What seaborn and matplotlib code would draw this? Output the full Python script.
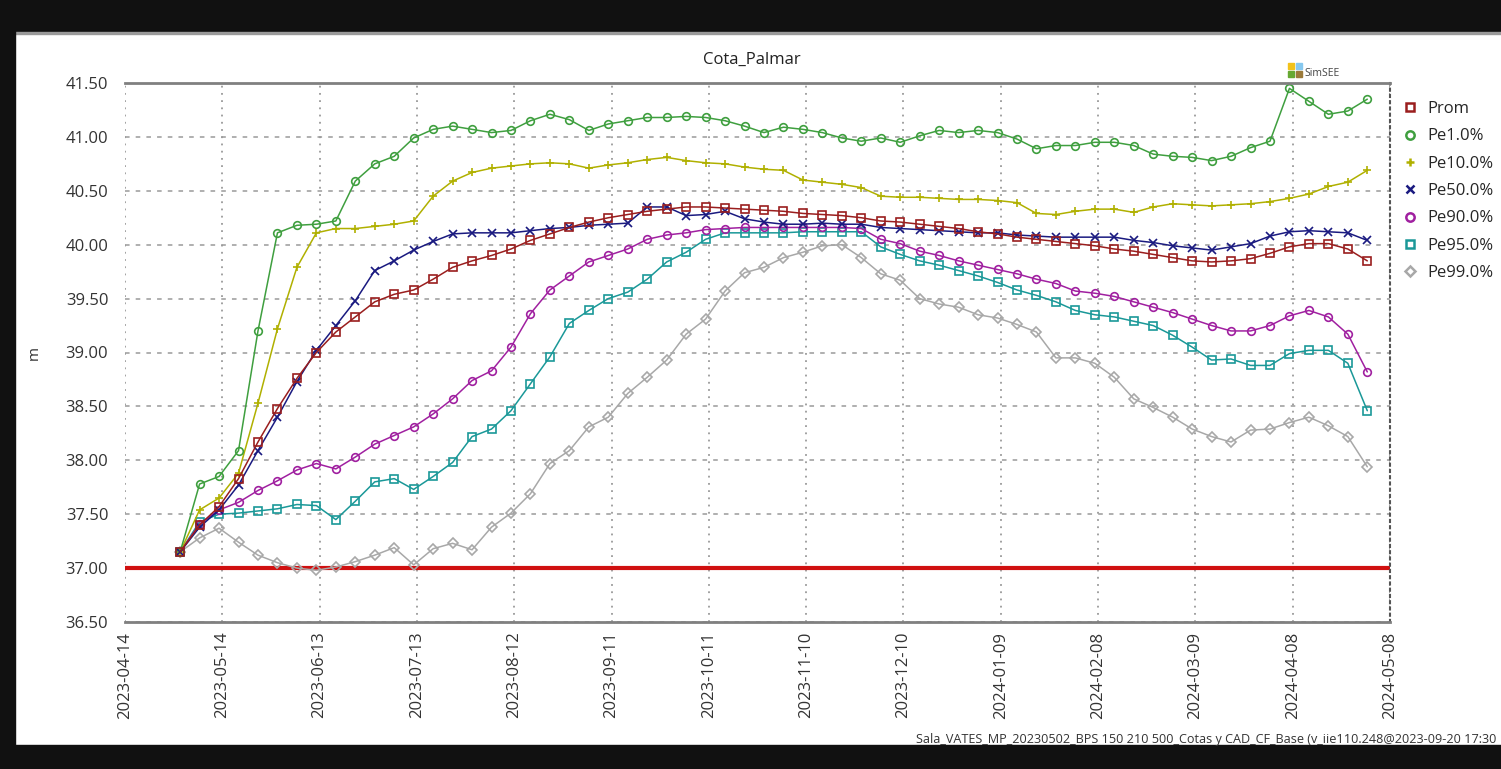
import numpy as np
import pandas as pd
import matplotlib
matplotlib.use("Agg")
import matplotlib.pyplot as plt
import matplotlib.dates as mdates
from matplotlib.patches import Rectangle
from matplotlib.lines import Line2D
import seaborn as sns

# ---------------- data ----------------
dates = pd.date_range("2023-05-01", "2024-05-01", freq="6D")

prom = [37.15, 37.40, 37.57, 37.83, 38.17, 38.48, 38.76, 39.00, 39.19, 39.33, 39.47, 39.54, 39.58, 39.68, 39.79, 39.85,
        39.90, 39.96, 40.04, 40.10, 40.16, 40.21, 40.25, 40.28, 40.31, 40.33, 40.35, 40.35, 40.34, 40.33, 40.32, 40.31,
        40.29, 40.28, 40.27, 40.25, 40.22, 40.21, 40.19, 40.17, 40.15, 40.12, 40.10, 40.07, 40.05, 40.03, 40.01, 39.99,
        39.96, 39.94, 39.91, 39.88, 39.85, 39.84, 39.85, 39.87, 39.92, 39.98, 40.01, 40.01, 39.96, 39.85]
pe1 = [37.15, 37.78, 37.85, 38.09, 39.20, 40.11, 40.18, 40.19, 40.22, 40.59, 40.75, 40.82, 40.99, 41.07, 41.10, 41.07,
       41.04, 41.06, 41.15, 41.21, 41.16, 41.06, 41.12, 41.15, 41.18, 41.18, 41.19, 41.18, 41.15, 41.10, 41.04, 41.09,
       41.07, 41.04, 40.99, 40.96, 40.99, 40.95, 41.01, 41.06, 41.04, 41.06, 41.04, 40.98, 40.89, 40.92, 40.92, 40.95,
       40.95, 40.92, 40.84, 40.82, 40.81, 40.78, 40.82, 40.90, 40.96, 41.45, 41.33, 41.21, 41.24, 41.35]
pe10 = [37.15, 37.54, 37.65, 37.88, 38.53, 39.22, 39.79, 40.11, 40.15, 40.15, 40.17, 40.19, 40.22, 40.45, 40.59, 40.67,
        40.71, 40.73, 40.75, 40.76, 40.75, 40.71, 40.74, 40.76, 40.79, 40.81, 40.78, 40.76, 40.75, 40.72, 40.70, 40.69,
        40.60, 40.58, 40.56, 40.53, 40.45, 40.44, 40.44, 40.43, 40.42, 40.42, 40.41, 40.39, 40.29, 40.28, 40.31, 40.33,
        40.33, 40.30, 40.35, 40.38, 40.37, 40.36, 40.37, 40.38, 40.40, 40.43, 40.47, 40.54, 40.58, 40.69]
pe50 = [37.15, 37.38, 37.54, 37.77, 38.09, 38.40, 38.73, 39.02, 39.25, 39.48, 39.76, 39.85, 39.95, 40.03, 40.10, 40.11,
        40.11, 40.11, 40.13, 40.15, 40.16, 40.18, 40.19, 40.20, 40.35, 40.35, 40.27, 40.28, 40.31, 40.24, 40.21, 40.19,
        40.19, 40.20, 40.19, 40.19, 40.16, 40.15, 40.14, 40.13, 40.12, 40.11, 40.11, 40.09, 40.08, 40.07, 40.07, 40.07,
        40.07, 40.04, 40.02, 39.99, 39.97, 39.95, 39.98, 40.01, 40.08, 40.12, 40.13, 40.12, 40.11, 40.04]
pe90 = [37.15, 37.41, 37.54, 37.61, 37.72, 37.81, 37.91, 37.97, 37.92, 38.03, 38.15, 38.23, 38.31, 38.43, 38.57, 38.74,
        38.83, 39.05, 39.36, 39.58, 39.71, 39.84, 39.90, 39.96, 40.05, 40.09, 40.11, 40.14, 40.15, 40.16, 40.16, 40.16,
        40.16, 40.16, 40.16, 40.15, 40.05, 40.01, 39.94, 39.90, 39.85, 39.81, 39.77, 39.73, 39.68, 39.64, 39.57, 39.55,
        39.52, 39.47, 39.42, 39.37, 39.31, 39.25, 39.20, 39.20, 39.25, 39.34, 39.39, 39.33, 39.17, 38.82]
pe95 = [37.15, 37.43, 37.50, 37.51, 37.53, 37.55, 37.59, 37.58, 37.45, 37.62, 37.80, 37.83, 37.73, 37.85, 37.98, 38.22,
        38.29, 38.46, 38.71, 38.96, 39.27, 39.39, 39.50, 39.56, 39.68, 39.84, 39.93, 40.05, 40.11, 40.11, 40.11, 40.11,
        40.12, 40.12, 40.12, 40.12, 39.98, 39.91, 39.85, 39.81, 39.76, 39.71, 39.65, 39.58, 39.53, 39.47, 39.39, 39.35,
        39.33, 39.29, 39.25, 39.16, 39.05, 38.93, 38.94, 38.88, 38.88, 38.99, 39.02, 39.02, 38.90, 38.46]
pe99 = [37.15, 37.28, 37.37, 37.24, 37.12, 37.05, 37.00, 36.98, 37.01, 37.06, 37.12, 37.19, 37.03, 37.18, 37.23, 37.17,
        37.38, 37.51, 37.69, 37.97, 38.09, 38.31, 38.40, 38.62, 38.77, 38.93, 39.17, 39.31, 39.57, 39.74, 39.79, 39.88,
        39.93, 39.99, 40.00, 39.88, 39.73, 39.67, 39.50, 39.45, 39.42, 39.35, 39.32, 39.26, 39.19, 38.95, 38.95, 38.90,
        38.77, 38.57, 38.49, 38.40, 38.29, 38.22, 38.17, 38.28, 38.29, 38.35, 38.40, 38.32, 38.22, 37.94]

series_names = ["Prom", "Pe1.0%", "Pe10.0%", "Pe50.0%", "Pe90.0%", "Pe95.0%", "Pe99.0%"]
series_values = [prom, pe1, pe10, pe50, pe90, pe95, pe99]
colors = ["#9a1e1e", "#3f9f3f", "#b0b000", "#1a1a80", "#a020a0", "#1a9898", "#a8a8a8"]
markers = ["s", "o", "+", "x", "o", "s", "D"]

xtick_dates = pd.date_range("2023-04-14", periods=14, freq="30D")
ytick_vals = np.arange(36.5, 41.51, 0.5)
limit_level = 37.0

title = "Cota_Palmar"
footer = "Sala_VATES_MP_20230502_BPS 150 210 500_Cotas y CAD_CF_Base (v_iie110.248@2023-09-20 17:30"

# ---------------- style ----------------
sns.set_style("white")
plt.rcParams["font.family"] = ["Open Sans", "DejaVu Sans"]

W, H = 1501, 769
fig = plt.figure(figsize=(W / 100, H / 100), dpi=100)
fig.patch.set_facecolor("white")
ax = fig.add_axes([125 / W, 1 - 622 / H, 1265 / W, 539 / H])

ax.axhline(limit_level, color="#d01010", lw=3, zorder=1.5)

order = [6, 5, 4, 2, 1, 3, 0]
for i in order:
    c = colors[i]
    m = markers[i]
    open_marker = m not in ("+", "x")
    sns.lineplot(x=dates, y=series_values[i], ax=ax, color=c, lw=1.1,
                 marker=m, markersize=5.5 if m != "D" else 5,
                 markerfacecolor="none" if open_marker else c,
                 markeredgecolor=c, markeredgewidth=1.2,
                 legend=False, zorder=2)

ax.set_xlim(xtick_dates[0], xtick_dates[-1])
ax.set_xticks(xtick_dates)
ax.xaxis.set_major_formatter(mdates.DateFormatter("%Y-%m-%d"))
ax.set_ylim(36.5, 41.5)
ax.set_yticks(ytick_vals)
ax.yaxis.set_major_formatter(matplotlib.ticker.FormatStrFormatter("%.2f"))
ax.tick_params(axis="x", rotation=90, labelsize=12, length=0, pad=7, colors="#333333")
ax.tick_params(axis="y", labelsize=12, length=0, pad=12, colors="#333333")
for lab in ax.get_xticklabels():
    lab.set_horizontalalignment("center")

ax.grid(axis="x", ls=(0, (1, 3)), color="#9a9a9a", lw=1.3)
ax.grid(axis="y", ls=(0, (3, 4)), color="#9a9a9a", lw=1.1)
ax.set_axisbelow(True)

ax.set_xlabel("")
ax.set_ylabel("m", fontsize=11, color="#333333")
ax.yaxis.set_label_coords(-83 / 1265, 0.5)

ax.spines["left"].set_visible(False)
ax.spines["top"].set_color("#808080")
ax.spines["top"].set_linewidth(2)
ax.spines["bottom"].set_color("#808080")
ax.spines["bottom"].set_linewidth(2)
ax.spines["right"].set_color("#555555")
ax.spines["right"].set_linewidth(1.5)
ax.spines["right"].set_linestyle((0, (1, 2)))

fig.text(752 / W, 1 - 60 / H, title, ha="center", va="center", fontsize=12, color="#222222")

handles = []
for i in range(len(series_names)):
    m = markers[i]
    open_marker = m not in ("+", "x")
    handles.append(Line2D([], [], ls="none", marker=m, markersize=6 if m != "D" else 5,
                          markerfacecolor="none" if open_marker else colors[i],
                          markeredgecolor=colors[i], markeredgewidth=1.8))
fig.legend(handles, series_names, loc="upper left", bbox_to_anchor=(1402 / W, 1 - 101 / H),
           frameon=False, fontsize=12, labelspacing=0.68, handlelength=1.0,
           handletextpad=0.55, borderaxespad=0, borderpad=0)

# SimSEE logo
logo_cols = [("#f2c21b", 1288, 63), ("#86c8ef", 1296, 63), ("#66a832", 1288, 71), ("#9b7a3a", 1296, 71)]
for col, lx, ly in logo_cols:
    fig.add_artist(Rectangle((lx / W, 1 - (ly + 6) / H), 6 / W, 6 / H,
                             transform=fig.transFigure, color=col, zorder=5))
fig.text(1304 / W, 1 - 74 / H, "SimSEE", ha="left", va="center", fontsize=7.5, color="#444444")

fig.text(916 / W, 1 - 739 / H, footer, ha="left", va="center", fontsize=9.1, color="#333333")

# screenshot black frame
fig.add_artist(Rectangle((0, 1 - 32 / H), 1, 32 / H, transform=fig.transFigure,
                         color="#111111", zorder=0))
fig.add_artist(Rectangle((0, 1 - 34 / H), 1, 2 / H, transform=fig.transFigure,
                         color="#9a9a9a", zorder=0))
fig.add_artist(Rectangle((0, 0), 15 / W, 1, transform=fig.transFigure,
                         color="#111111", zorder=0))
fig.add_artist(Rectangle((0, 0), 1, 24 / H, transform=fig.transFigure,
                         color="#111111", zorder=0))

fig.savefig("out.png", dpi=100)
